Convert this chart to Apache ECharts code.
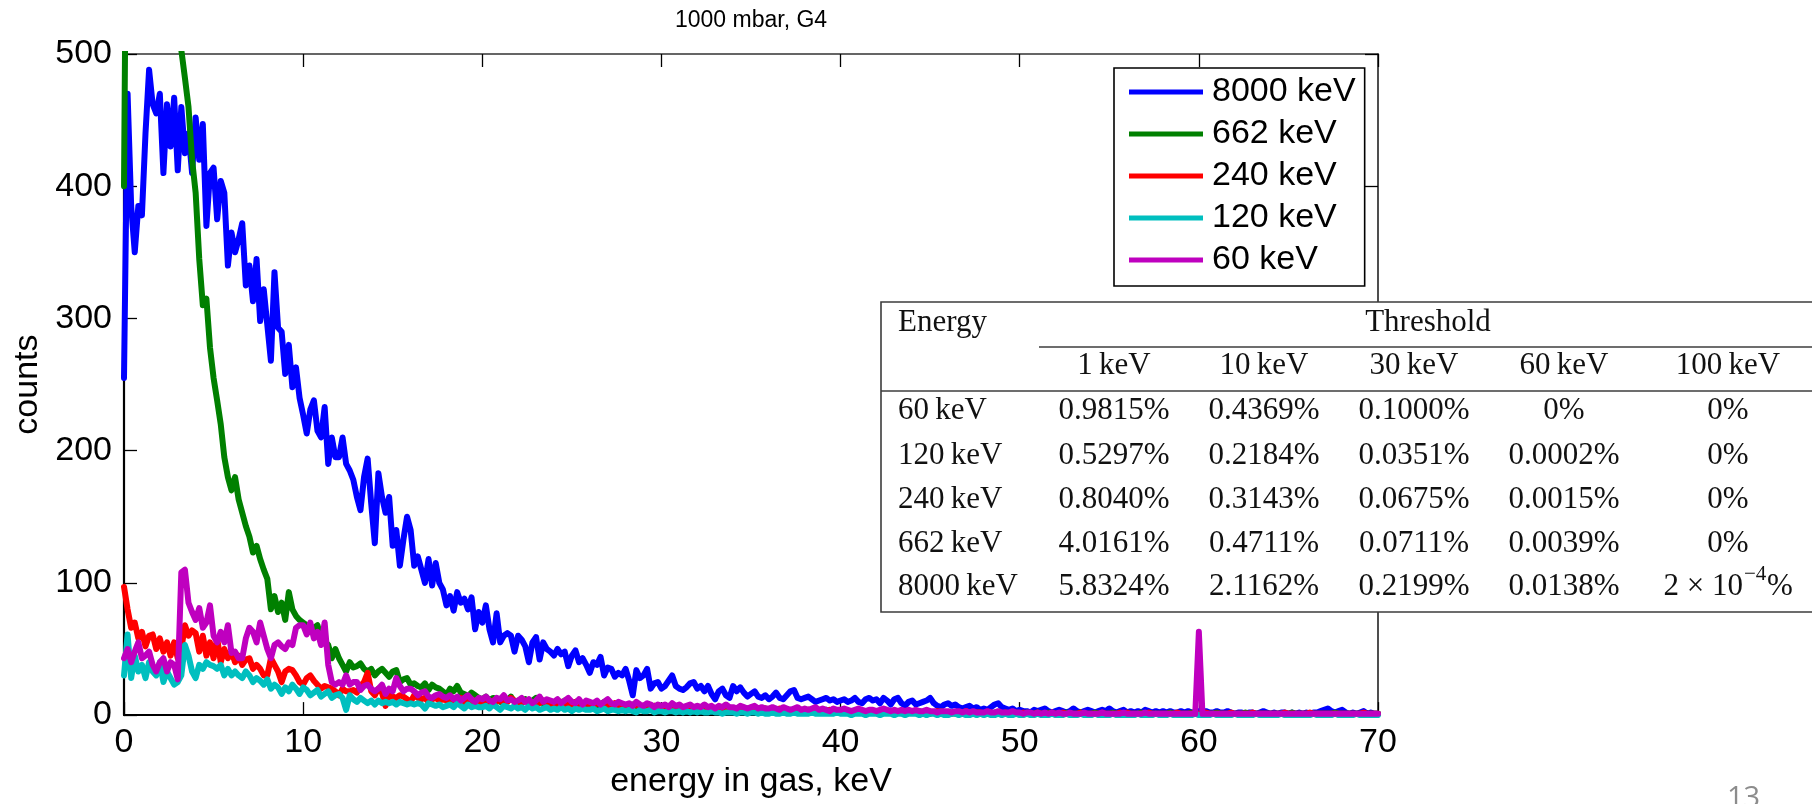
<!DOCTYPE html>
<html><head><meta charset="utf-8">
<script src="https://cdn.jsdelivr.net/npm/echarts@6/dist/echarts.min.js"></script>
<style>html,body{margin:0;padding:0;background:#fff;}#chart{width:1812px;height:804px;}</style>
</head><body><div id="chart"></div>
<script>
// ---- data (bins of 0.2 keV from 0 to 70 keV; one row = 2 keV) ----
const BIN_KEV = 0.2;
const seriesNames = ['8000 keV', '662 keV', '240 keV', '120 keV', '60 keV'];
const seriesColors = ['#0000ff', '#008000', '#ff0000', '#00bfbf', '#bf00bf'];

const counts8000 = [
255,470,385,350,385,378,440,488,462,455,
470,410,462,430,467,412,460,425,440,410,
452,420,447,370,410,414,375,404,395,340,
365,350,360,372,325,340,313,345,298,322,
295,268,335,293,290,258,280,248,263,240,
227,213,231,238,215,210,233,190,210,195,
195,210,190,185,178,165,155,180,194,160,
130,183,165,153,165,128,140,113,133,150,
140,113,120,110,100,118,98,115,100,95,
83,90,79,93,85,88,80,89,65,78,
70,83,65,55,77,55,60,62,60,48,
60,57,52,40,55,59,42,55,50,48,
45,50,46,48,37,45,49,40,43,38,
32,40,38,44,30,36,35,29,32,30,
35,26,15,34,28,30,35,20,24,25,
20,22,26,30,22,20,19,21,24,25,
20,22,18,22,16,12,18,20,15,13,
22,18,21,17,14,16,18,14,13,15,
12,14,17,13,12,15,18,19,13,12,
13,14,12,10,11,12,13,11,12,10,
11,12,10,11,13,10,9,12,13,11,
12,9,13,11,8,12,13,9,7,10,
11,8,9,10,11,13,9,7,6,8,
9,7,8,6,5,6,7,5,6,4,
5,4,6,8,9,6,5,4,5,3,
4,3,3,2,4,3,4,5,3,2,
3,4,3,2,3,5,3,2,3,4,
3,2,3,4,3,5,3,2,3,4,
2,3,2,3,2,4,3,2,3,2,
3,2,3,2,2,3,2,3,2,2,
3,2,3,2,2,3,2,2,3,2,
1,2,2,1,2,2,1,2,3,2,
1,2,1,2,2,1,2,1,2,1,
2,1,2,2,3,4,5,3,2,3,
4,2,1,2,1,2,3,1,2,1,
1];

const counts662 = [
400,760,880,920,900,870,840,800,770,740,
720,680,650,610,580,540,503,482,460,420,
395,345,310,315,278,255,238,220,195,180,
170,180,163,153,143,135,123,128,118,110,
103,80,90,78,85,72,93,80,75,72,
70,68,63,66,68,58,56,53,43,50,
43,38,33,40,36,37,39,35,33,35,
30,33,35,32,29,33,34,25,27,28,
23,24,22,21,24,19,23,21,20,18,
15,20,18,22,17,16,14,17,15,13,
12,14,11,13,12,10,12,11,14,10,
11,10,12,9,11,13,10,9,11,10,
9,10,8,11,9,8,10,7,9,8,
8,9,7,8,10,7,8,6,7,8,
7,6,8,7,6,7,5,6,7,6,
6,5,7,6,5,6,5,4,6,5,
5,6,4,5,6,4,5,4,5,4,
4,5,4,3,5,4,4,3,4,5,
4,3,4,3,4,3,4,3,3,4,
3,4,3,3,2,3,4,3,2,3,
3,2,3,3,2,3,2,3,2,2,
2,3,2,2,3,2,2,3,2,2,
2,2,3,2,2,1,2,2,3,2,
2,1,2,2,1,2,2,1,2,2,
1,2,1,2,2,1,2,1,1,2,
1,1,2,1,1,2,1,1,2,1,
1,1,1,2,1,1,1,2,1,1,
1,2,1,1,1,1,2,1,1,1,
1,1,1,1,2,1,1,1,1,1,
1,1,2,1,1,1,1,1,2,1,
1,1,1,1,1,2,1,1,1,1,
1,1,1,2,1,1,1,1,1,1,
1,1,1,1,1,1,2,1,1,1,
1,1,1,1,1,1,1,1,2,1,
1,1,1,1,1,1,1,1,1,1,
1];

const counts240 = [
97,80,66,70,58,63,52,60,61,50,
58,48,55,45,55,43,50,68,60,64,
62,48,60,45,55,43,58,40,50,43,
48,40,45,38,42,43,35,38,35,30,
30,43,38,33,25,33,35,34,30,25,
23,28,30,26,23,20,22,21,20,18,
15,20,18,18,19,17,22,25,32,18,
15,20,17,7,15,14,13,15,14,12,
10,15,13,12,13,10,12,13,11,12,
11,12,10,11,13,9,12,10,11,9,
10,12,9,11,10,12,9,10,13,11,
10,9,11,10,8,10,9,11,9,8,
9,8,10,7,9,8,10,8,7,9,
8,7,9,8,7,8,6,9,7,8,
7,6,7,8,6,7,6,5,7,6,
6,5,6,7,5,6,4,5,6,5,
5,4,6,5,4,5,6,4,5,4,
5,4,3,5,4,5,3,4,4,5,
4,3,4,5,3,4,3,4,3,4,
3,4,3,2,4,3,3,4,3,2,
3,4,3,2,3,4,3,2,3,3,
2,3,4,3,2,3,2,3,2,3,
2,3,2,2,3,2,2,3,2,2,
2,2,1,2,2,3,2,1,2,2,
1,2,2,1,2,1,2,1,2,1,
1,2,1,1,1,2,1,1,1,2,
1,1,2,1,1,1,1,2,1,1,
1,1,1,2,1,1,1,1,2,1,
2,1,1,1,1,1,2,1,1,1,
1,1,1,1,2,1,1,1,1,1,
1,1,2,1,1,1,1,1,1,2,
1,1,1,1,1,2,1,1,1,1,
1,1,1,1,2,1,1,1,1,1,
1,2,1,1,1,1,1,1,1,1,
1,1,1,1,1,1,2,1,1,1,
1];

const counts120 = [
30,61,28,45,33,38,28,40,33,30,
40,25,33,28,23,25,30,53,45,33,
28,38,35,40,38,37,35,38,30,35,
30,33,30,28,33,30,25,28,26,23,
27,20,23,21,16,21,18,23,20,16,
21,19,15,17,19,14,16,18,13,15,
16,13,4,15,12,10,13,11,9,11,
8,11,9,10,9,10,8,10,9,8,
9,8,9,8,5,9,8,7,8,6,
7,8,6,9,7,5,8,6,7,6,
6,7,5,8,6,4,7,6,5,7,
5,6,4,7,5,6,4,5,6,4,
5,4,6,4,5,3,5,4,5,4,
4,5,3,4,5,3,4,4,3,4,
3,4,3,2,4,3,3,4,2,3,
3,2,3,3,2,3,2,3,2,3,
2,3,2,2,3,2,2,1,2,2,
2,1,2,2,1,2,2,1,2,1,
1,2,1,1,2,1,1,2,1,1,
1,1,2,1,1,1,1,1,1,2,
1,1,1,0,1,1,1,0,1,1,
1,0,1,1,1,0,1,1,0,1,
1,1,0,1,0,1,1,0,1,0,
0,1,1,0,1,0,0,1,0,1,
0,1,0,0,1,0,1,0,0,1,
0,0,1,0,0,1,0,0,0,1,
0,0,0,1,0,0,0,1,0,0,
0,1,0,0,0,0,1,0,0,0,
0,0,0,1,0,0,0,0,1,0,
0,0,1,0,0,0,0,0,0,1,
0,0,0,0,1,0,0,0,0,0,
1,0,0,0,0,0,1,0,0,0,
0,0,0,1,0,0,0,0,0,0,
0,0,1,0,0,0,0,0,1,0,
0,0,0,0,1,0,0,0,0,0,
0];

const counts60 = [
43,50,40,48,55,43,45,48,38,33,
40,43,33,40,38,27,108,110,85,78,
72,81,66,70,83,60,55,63,55,68,
47,48,43,43,58,66,63,55,70,60,
50,43,53,55,52,50,55,53,66,68,
68,61,70,58,63,53,70,38,25,23,
25,23,30,23,25,25,19,22,23,20,
18,20,23,16,20,18,28,22,18,20,
20,18,15,17,18,14,13,15,16,14,
13,15,12,14,11,13,15,12,10,13,
12,14,11,10,13,12,15,11,12,10,
11,13,10,12,9,11,14,10,12,11,
10,12,9,11,13,10,9,12,8,11,
10,9,11,8,10,12,9,8,10,9,
8,9,7,10,8,7,9,8,6,8,
7,8,6,9,7,8,6,7,8,6,
7,6,8,6,7,5,7,6,8,6,
6,5,7,6,5,6,7,5,6,5,
5,6,5,4,6,5,4,5,6,4,
5,4,5,6,4,5,4,3,5,4,
4,5,4,3,4,5,4,3,4,4,
3,4,5,4,3,4,3,4,3,4,
3,4,3,3,4,3,3,2,3,3,
3,2,3,3,2,3,2,3,2,2,
2,3,2,2,3,2,2,2,3,2,
2,1,2,2,1,2,1,2,1,2,
1,2,1,1,2,1,1,1,2,1,
1,1,1,2,1,1,1,1,1,2,
1,1,1,1,1,2,1,1,1,1,
1,1,1,1,1,1,1,1,1,1,
63,1,1,1,1,1,1,1,1,1,
1,1,1,1,1,1,1,1,1,1,
1,1,1,1,1,1,1,1,1,1,
1,1,1,1,1,1,1,1,1,1,
1,1,1,1,1,1,1,1,1,1,
1];

const seriesCounts = [counts8000, counts662, counts240, counts120, counts60];

// axis ticks
const X_MIN = 0, X_MAX = 70, X_STEP = 10;
const Y_MIN = 0, Y_MAX = 500, Y_STEP = 100;

// inset table
const tableCorner = 'Energy';
const tableGroup = 'Threshold';
const tableThresholds = ['1\u2009keV', '10\u2009keV', '30\u2009keV', '60\u2009keV', '100\u2009keV'];
const tableEnergies = ['60\u2009keV', '120\u2009keV', '240\u2009keV', '662\u2009keV', '8000\u2009keV'];
const tableValues = [
  ['0.9815%', '0.4369%', '0.1000%', '0%', '0%'],
  ['0.5297%', '0.2184%', '0.0351%', '0.0002%', '0%'],
  ['0.8040%', '0.3143%', '0.0675%', '0.0015%', '0%'],
  ['4.0161%', '0.4711%', '0.0711%', '0.0039%', '0%'],
  ['5.8324%', '2.1162%', '0.2199%', '0.0138%', null]
];
// last cell: 2 × 10^−4 %
const sciCell = {mantissa: '2 × 10', exponent: '\u22124', unit: '%'};

// ---- chart ----
const SANS = 'Liberation Sans, Arial, Helvetica, sans-serif';
const SERIF = 'Liberation Serif, Times New Roman, serif';
const chart = echarts.init(document.getElementById('chart'), null, {renderer: 'canvas'});

const series = seriesNames.map((name, s) => ({
  name: name,
  type: 'line',
  data: seriesCounts[s].map((v, i) => [+(i * BIN_KEV).toFixed(1), v]),
  showSymbol: false,
  symbol: 'none',
  clip: true,
  lineStyle: {color: seriesColors[s], width: 6, join: 'round', cap: 'round'},
  itemStyle: {color: seriesColors[s]},
  emphasis: {disabled: true},
  animation: false
}));

// table graphics
const TBL_L = 881, TBL_T = 302, TBL_B = 612, TBL_R = 1840;
const colX = [1114, 1264, 1414, 1564, 1728];
const rowY = [411, 455.5, 499.5, 543.5, 587];
const tfont = {fontFamily: SERIF, fontSize: 31, fill: '#111'};
const gEls = [];
gEls.push({type: 'rect', z: 100, shape: {x: TBL_L, y: TBL_T, width: TBL_R - TBL_L, height: TBL_B - TBL_T},
  style: {fill: '#fff', stroke: '#3c3c3c', lineWidth: 1.6}});
gEls.push({type: 'line', z: 101, shape: {x1: 1039, y1: 347, x2: TBL_R, y2: 347}, style: {stroke: '#3c3c3c', lineWidth: 1.6}});
gEls.push({type: 'line', z: 101, shape: {x1: TBL_L, y1: 391, x2: TBL_R, y2: 391}, style: {stroke: '#3c3c3c', lineWidth: 1.6}});
gEls.push({type: 'text', z: 102, x: 898, y: 323, style: Object.assign({text: tableCorner, align: 'left', verticalAlign: 'middle'}, tfont)});
gEls.push({type: 'text', z: 102, x: 1428, y: 323, style: Object.assign({text: tableGroup, align: 'center', verticalAlign: 'middle'}, tfont)});
tableThresholds.forEach((t, c) => {
  gEls.push({type: 'text', z: 102, x: colX[c], y: 366, style: Object.assign({text: t, align: 'center', verticalAlign: 'middle'}, tfont)});
});
tableEnergies.forEach((e, r) => {
  gEls.push({type: 'text', z: 102, x: 898, y: rowY[r], style: Object.assign({text: e, align: 'left', verticalAlign: 'middle'}, tfont)});
  tableValues[r].forEach((v, c) => {
    if (v === null) {
      gEls.push({type: 'text', z: 102, x: 1743, y: rowY[r], style: Object.assign({text: sciCell.mantissa, align: 'right', verticalAlign: 'middle'}, tfont)});
      gEls.push({type: 'text', z: 102, x: 1744, y: rowY[r] - 13, style: {text: sciCell.exponent, fontFamily: SERIF, fontSize: 21, fill: '#111', align: 'left', verticalAlign: 'middle'}});
      gEls.push({type: 'text', z: 102, x: 1767, y: rowY[r], style: Object.assign({text: sciCell.unit, align: 'left', verticalAlign: 'middle'}, tfont)});
    } else {
      gEls.push({type: 'text', z: 102, x: colX[c], y: rowY[r], style: Object.assign({text: v, align: 'center', verticalAlign: 'middle'}, tfont)});
    }
  });
});
// slide page number
gEls.push({type: 'text', z: 102, x: 1727, y: 784, style: {text: '13', fontFamily: 'Open Sans, Liberation Sans, sans-serif', fontSize: 29, fill: '#8c8c8c', align: 'left', verticalAlign: 'top'}});

const axisCommon = {
  type: 'value',
  splitLine: {show: false},
  axisTick: {show: true, inside: true, length: 13, lineStyle: {color: '#000', width: 1.3}},
  axisLine: {show: true, onZero: false, lineStyle: {color: '#000', width: 2.2}},
  axisLabel: {show: true, color: '#000', fontSize: 34, fontFamily: SANS}
};

const option = {
  animation: false,
  backgroundColor: '#fff',
  title: {
    text: '1000 mbar, G4', left: 675, top: 9, padding: 0,
    textStyle: {fontFamily: SANS, fontSize: 23, fontWeight: 'normal', color: '#000'}
  },
  legend: {
    data: seriesNames,
    orient: 'vertical',
    left: 1114, top: 68,
    padding: [3, 9, 5, 15],
    itemWidth: 74, itemHeight: 5, itemGap: 0,
    icon: 'rect',
    selectedMode: false,
    backgroundColor: '#fff',
    borderColor: '#000', borderWidth: 1.6,
    textStyle: {fontFamily: SANS, fontSize: 34, lineHeight: 42, color: '#000', padding: [0, 0, 0, 4]},
    z: 50
  },
  grid: {left: 124, right: 434, top: 54, bottom: 83, containLabel: false},
  xAxis: [
    Object.assign({}, axisCommon, {
      min: X_MIN, max: X_MAX, interval: X_STEP, position: 'bottom',
      axisLabel: Object.assign({}, axisCommon.axisLabel, {margin: 11}),
      name: 'energy in gas, keV', nameLocation: 'middle', nameGap: 45,
      nameTextStyle: {fontFamily: SANS, fontSize: 34, color: '#000'}
    }),
    Object.assign({}, axisCommon, {
      min: X_MIN, max: X_MAX, interval: X_STEP, position: 'top',
      axisLine: {show: true, onZero: false, lineStyle: {color: '#333', width: 1.6}},
      axisLabel: {show: false}
    })
  ],
  yAxis: [
    Object.assign({}, axisCommon, {
      min: Y_MIN, max: Y_MAX, interval: Y_STEP, position: 'left',
      axisLabel: Object.assign({}, axisCommon.axisLabel, {margin: 12}),
      name: 'counts', nameLocation: 'middle', nameGap: 78, nameRotate: 90,
      nameTextStyle: {fontFamily: SANS, fontSize: 34, color: '#000'}
    }),
    Object.assign({}, axisCommon, {
      min: Y_MIN, max: Y_MAX, interval: Y_STEP, position: 'right',
      axisLine: {show: true, onZero: false, lineStyle: {color: '#222', width: 1.6}},
      axisLabel: {show: false}
    })
  ],
  series: series,
  graphic: {elements: gEls}
};
chart.setOption(option);
</script>
</body></html>
